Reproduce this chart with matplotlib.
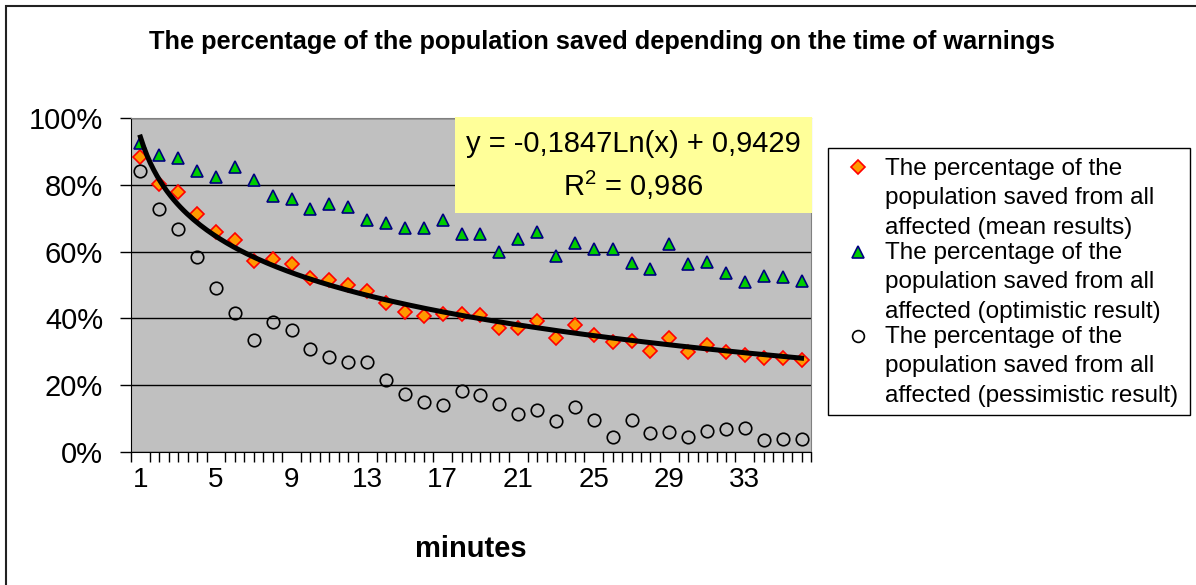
import numpy as np
import matplotlib
matplotlib.use("Agg")
import matplotlib.pyplot as plt
from matplotlib.patches import Rectangle
from matplotlib.lines import Line2D
from matplotlib.ticker import PercentFormatter, FixedLocator, NullFormatter

plt.rcParams['font.family'] = ['Liberation Sans', 'DejaVu Sans']
plt.rcParams['mathtext.fontset'] = 'custom'
plt.rcParams['mathtext.rm'] = 'Liberation Sans'

# data
minutes = list(range(1, 37))
mean_res = [0.882, 0.803, 0.777, 0.714, 0.659, 0.635, 0.573, 0.577, 0.562, 0.520,
            0.515, 0.501, 0.482, 0.447, 0.420, 0.408, 0.413, 0.413, 0.411, 0.370,
            0.370, 0.391, 0.340, 0.380, 0.350, 0.328, 0.332, 0.303, 0.342, 0.300,
            0.320, 0.300, 0.290, 0.280, 0.280, 0.275]
optimistic = [0.925, 0.890, 0.880, 0.842, 0.823, 0.852, 0.814, 0.765, 0.757, 0.728,
              0.742, 0.733, 0.695, 0.685, 0.671, 0.671, 0.695, 0.652, 0.652, 0.598,
              0.637, 0.660, 0.588, 0.627, 0.608, 0.608, 0.565, 0.547, 0.622, 0.562,
              0.569, 0.536, 0.508, 0.528, 0.523, 0.512]
pessimistic = [0.841, 0.727, 0.669, 0.583, 0.492, 0.417, 0.335, 0.388, 0.364, 0.307,
               0.283, 0.268, 0.268, 0.217, 0.174, 0.149, 0.140, 0.182, 0.170, 0.144,
               0.114, 0.125, 0.093, 0.135, 0.097, 0.045, 0.097, 0.058, 0.059, 0.045,
               0.063, 0.068, 0.073, 0.035, 0.040, 0.040]
# logarithmic trend line coefficients as printed on the chart
trend_a = -0.1847
trend_b = 0.9429
eq_text = "y = -0,1847Ln(x) + 0,9429"
r2_text = "R$^2$ = 0,986"
labels = ["The percentage of the\npopulation saved from all\naffected (mean results)",
          "The percentage of the\npopulation saved from all\naffected (optimistic result)",
          "The percentage of the\npopulation saved from all\naffected (pessimistic result)"]
xtick_vals = [1, 5, 9, 13, 17, 21, 25, 29, 33]

W, H = 1196, 585


def fx(x):
    return x / W


def fy(y):
    return 1 - y / H


fig = plt.figure(figsize=(W / 100, H / 100), dpi=100)
ax = fig.add_axes([fx(131), fy(452), fx(811) - fx(131), fy(118) - fy(452)])
ax.set_facecolor('#C0C0C0')

ax.plot(minutes, mean_res, linestyle='none', marker='D', markersize=7.5,
        markerfacecolor='#FF9900', markeredgecolor='#FF0000', markeredgewidth=1.2, zorder=3)
ax.plot(minutes, optimistic, linestyle='none', marker='^', markersize=8.5,
        markerfacecolor='#00CC00', markeredgecolor='#000080', markeredgewidth=1.2, zorder=3)
ax.plot(minutes, pessimistic, linestyle='none', marker='o', markersize=9,
        markerfacecolor='none', markeredgecolor='black', markeredgewidth=1.2, zorder=3)

xt = np.linspace(1, 36, 200)
ax.plot(xt, trend_a * np.log(xt) + trend_b, color='black', linewidth=3.6, zorder=4)

ax.set_xlim(0.5, 36.5)
ax.set_ylim(0, 1)
ax.yaxis.set_major_locator(FixedLocator([0, 0.2, 0.4, 0.6, 0.8, 1.0]))
ax.yaxis.set_major_formatter(PercentFormatter(1.0, decimals=0))
ax.grid(axis='y', color='black', linewidth=1)
ax.set_axisbelow(True)

ax.xaxis.set_major_locator(FixedLocator(xtick_vals))
ax.xaxis.set_minor_locator(FixedLocator(np.arange(0.5, 37, 0.5)))
ax.xaxis.set_minor_formatter(NullFormatter())
ax.tick_params(axis='x', which='major', length=0, pad=11, labelsize=20)
ax.tick_params(axis='x', which='minor', length=7, width=1, direction='out')
ax.tick_params(axis='y', length=8, width=1, pad=12, labelsize=21)

ax.spines['top'].set_color('#808080')
ax.spines['right'].set_color('#808080')
ax.set_xlabel('minutes', fontsize=21, fontweight='bold', labelpad=30)

fig.text(fx(602), fy(49), "The percentage of the population saved depending on the time of warnings",
         ha='center', va='baseline', fontsize=18.3, fontweight='bold')

# equation box
fig.patches.append(Rectangle((fx(455), fy(213)), fx(812) - fx(455), fy(117) - fy(213),
                             transform=fig.transFigure, facecolor='#FFFF99', edgecolor='none', zorder=2))
fig.text(fx(633), fy(152), eq_text, ha='center', va='baseline', fontsize=21, zorder=3)
fig.text(fx(633), fy(196), r2_text, ha='center', va='baseline', fontsize=21, zorder=3)

# legend
fig.patches.append(Rectangle((fx(828), fy(415)), fx(1190) - fx(828), fy(148) - fy(415),
                             transform=fig.transFigure, facecolor='white', edgecolor='black',
                             linewidth=1, zorder=2))
styles = [dict(marker='D', markersize=7.5, markerfacecolor='#FF9900', markeredgecolor='#FF0000'),
          dict(marker='^', markersize=8, markerfacecolor='#00CC00', markeredgecolor='#000080'),
          dict(marker='o', markersize=8.5, markerfacecolor='none', markeredgecolor='black')]
marker_y = [167, 252, 336]
base_y = [175, 259, 343]
for st, my, by, lab in zip(styles, marker_y, base_y, labels):
    fig.add_artist(Line2D([fx(858)], [fy(my)], transform=fig.transFigure, linestyle='none',
                          markeredgewidth=1.2, zorder=3, **st))
    for i, line in enumerate(lab.split('\n')):
        fig.text(fx(885), fy(by + i * 29.3), line, ha='left', va='baseline', fontsize=17.5, zorder=3)

# outer chart border (clipped at right and bottom in the original)
fig.patches.append(Rectangle((fx(6), fy(620)), fx(1240) - fx(6), fy(6) - fy(620),
                             transform=fig.transFigure, facecolor='none', edgecolor='#222222',
                             linewidth=1.5, zorder=5))

fig.savefig('out.png', dpi=100)
